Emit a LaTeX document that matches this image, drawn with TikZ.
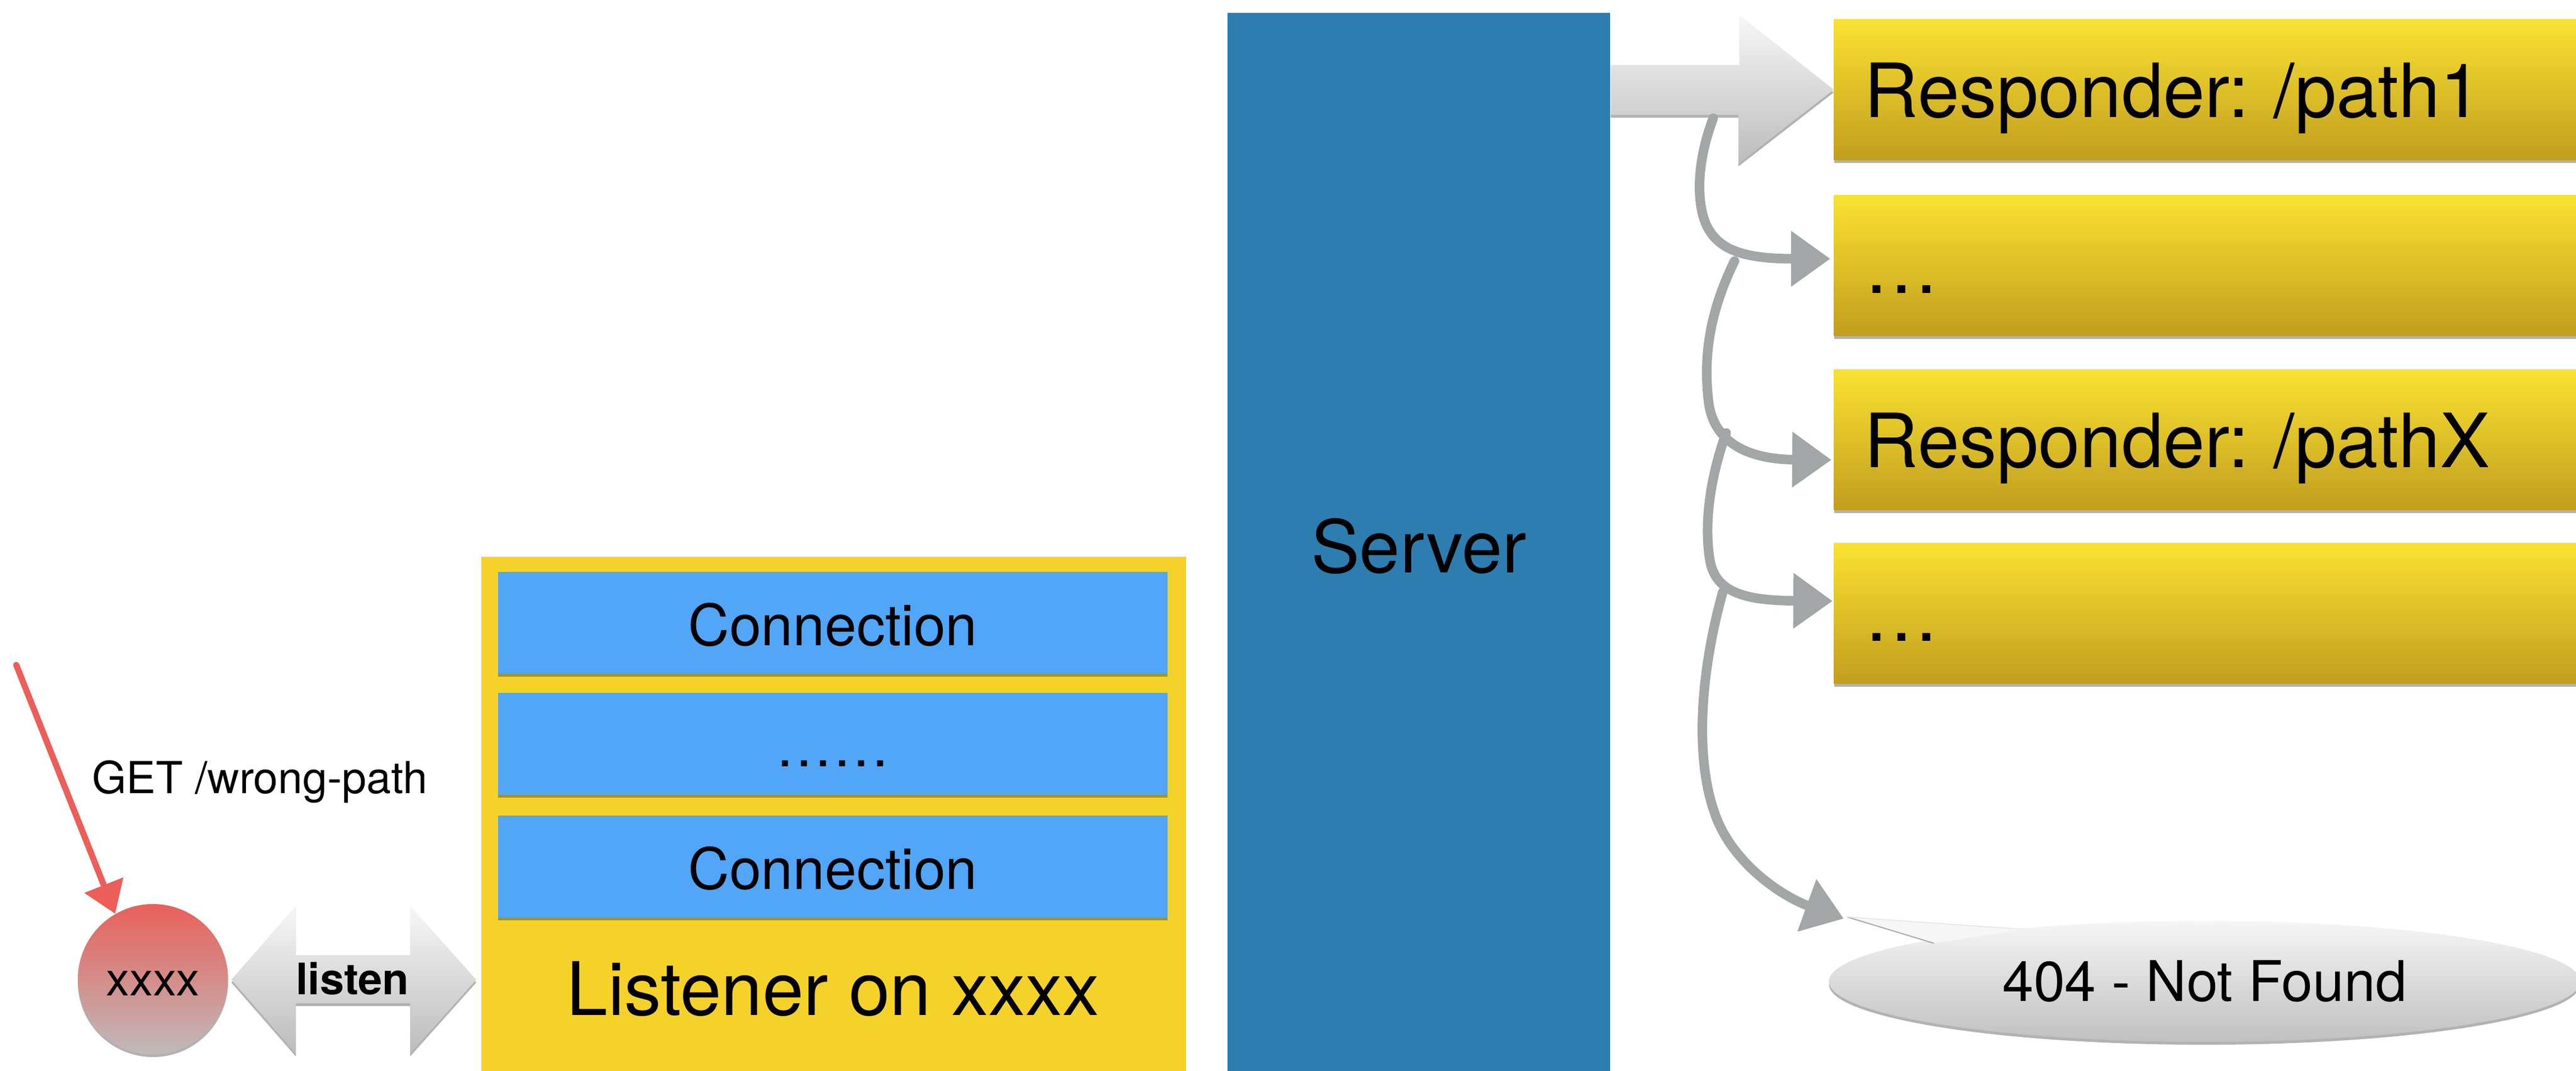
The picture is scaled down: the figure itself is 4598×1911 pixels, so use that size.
\documentclass[tikz,border=0pt]{standalone}
\usepackage{fontspec}
\setmainfont{TeX Gyre Heros}
\frenchspacing
\usetikzlibrary{arrows.meta,shadows,shapes.geometric,calc}
\definecolor{serverblue}{RGB}{45,125,176}
\definecolor{connblue}{RGB}{81,166,247}
\definecolor{listyellow}{RGB}{245,210,42}
\definecolor{respTop}{RGB}{250,226,50}
\definecolor{respBot}{RGB}{193,158,30}
\definecolor{redTop}{RGB}{232,96,90}
\definecolor{redBot}{RGB}{192,186,186}
\definecolor{redline}{RGB}{236,94,88}
\definecolor{curvegray}{RGB}{163,166,166}
\definecolor{arrTop}{RGB}{247,247,247}
\definecolor{arrBot}{RGB}{188,188,188}
\definecolor{ellTop}{RGB}{246,246,246}
\definecolor{ellBot}{RGB}{192,192,192}
\definecolor{tailedge}{RGB}{170,170,170}
\tikzset{
  fs/.style={font=\fontsize{#1}{#1}\selectfont},
  softshadow/.style={drop shadow={shadow xshift=0pt, shadow yshift=-0.05cm, opacity=0.3, fill=black}},
  serverbox/.style={rectangle, fill=serverblue, inner sep=0pt, anchor=north west,
    minimum width=6.83cm, minimum height=18.9cm, fs=37pt, text height=30.7pt, text depth=0pt},
  listbox/.style={rectangle, fill=listyellow, inner sep=0pt, anchor=north west,
    minimum width=12.58cm, minimum height=9.5cm},
  connbox/.style={rectangle, fill=connblue, inner sep=0pt, minimum width=11.95cm,
    minimum height=1.81cm, fs=29pt, text height=23.3pt, text depth=0pt, softshadow},
  respbox/.style={rectangle, top color=respTop, bottom color=respBot, anchor=west,
    text width=12.4cm, align=left, inner xsep=0.54cm, inner ysep=0pt,
    minimum height=2.51cm, fs=38pt, text height=28.4pt, text depth=0pt, softshadow},
  portnode/.style={circle, top color=redTop, bottom color=redBot, inner sep=0pt,
    minimum size=2.68cm, fs=23.7pt, text height=17pt, text depth=0pt, softshadow},
  notfound/.style={ellipse, top color=ellTop, bottom color=ellBot, inner sep=0pt,
    minimum width=13.4cm, minimum height=2.16cm, fs=28.5pt, text height=20pt, text depth=0pt, softshadow},
  blockarrow/.style={top color=arrTop, bottom color=arrBot, softshadow},
  curvearrow/.style={draw=curvegray, line width=0.17cm, line cap=round,
    -{Triangle[length=0.7cm,width=0.95cm]}},
  redarrow/.style={draw=redline, line width=0.11cm, line cap=round,
    -{Triangle[length=0.55cm,width=0.72cm]}}
}
\begin{document}
\begin{tikzpicture}[x=0.01cm, y=-0.01cm]
\useasboundingbox (0,0) rectangle (4598,1911);
\fill[white] (0,0) rectangle (4598,1911);
\clip (0,0) rectangle (4598,1911);

% Server
\node[serverbox] (server) at (2190,22) {Server};

% Listener with connections
\node[listbox] (listener) at (858,993) {};
\node[connbox] (conn1) at (1486.5,1112) {Connection};
\node[connbox] (conn2) at (1486.5,1328) {……};
\node[connbox] (conn3) at (1486.5,1547) {Connection};
\node[fs=37.5pt, anchor=base] (listenertext) at (1487,1812) {Listener on xxxx};

% Port circle
\node[portnode] (port) at (273,1748) {xxxx};

% listen double arrow
\shade[blockarrow] (413,1749) -- (528,1617) -- (528,1705) -- (732,1705) -- (732,1617)
  -- (850,1749) -- (732,1881) -- (732,1791) -- (528,1791) -- (528,1881) -- cycle;
\node[font=\bfseries\fontsize{22pt}{22pt}\selectfont, anchor=base] (listenlbl) at (629,1775) {listen};

% GET request
\coordinate (getstart) at (29,1187);
\draw[redarrow] (getstart) -- (port.120);
\node[fs=22.4pt, anchor=base west] (getlbl) at (152,1416) {GET /wrong-path};

% Responders
\node[respbox] (r1) at (3273,160) {Responder: /path1};
\node[respbox] (r2) at (3273,474) {…};
\node[respbox] (r3) at (3273,785) {Responder: /pathX};
\node[respbox] (r4) at (3273,1095) {…};

% 404
\node[notfound] (nf) at (3935,1752) {404 - Not Found};
\coordinate (tailtip) at (3297,1637);
\fill[ellTop] (tailtip) -- (3452,1684) -- (3612,1659) -- cycle;
\draw[tailedge, line width=0.02cm] (tailtip) -- (3452,1684);
\draw[black!10, line width=0.015cm] (tailtip) -- (3612,1659);

% Big white arrow server -> r1
\coordinate (wa0) at (server.east |- r1.west);
\shade[blockarrow] ($(wa0)+(0,-44)$) -- ++(230,0) -- ++(0,-89) -- (r1.west)
  -- ++(-170,132) -- ++(0,-87) -- ($(wa0)+(0,45)$) -- cycle;

% Curved gray arrows
\coordinate (c1s) at (3058,211);
\coordinate (c2s) at (3096,466);
\coordinate (c3s) at (3081,773);
\coordinate (c4s) at (3075,1057);
\draw[curvearrow] (c1s) .. controls (3028,290) and (3028,360) .. (3045,400)
  .. controls (3065,445) and (3110,462) .. ($(r2.west)+(-6,-12)$);
\draw[curvearrow] (c2s) .. controls (3050,560) and (3040,640) .. (3050,720)
  .. controls (3060,790) and (3120,820) .. ($(r3.west)+(-4,36)$);
\draw[curvearrow] (c3s) .. controls (3050,860) and (3042,940) .. (3052,1000)
  .. controls (3062,1060) and (3120,1072) .. ($(r4.west)+(-2,-22)$);
\draw[curvearrow] (c4s) .. controls (3035,1200) and (3025,1350) .. (3060,1450)
  .. controls (3090,1540) and (3180,1600) .. ($(tailtip)+(-6,3)$);
\end{tikzpicture}
\end{document}
